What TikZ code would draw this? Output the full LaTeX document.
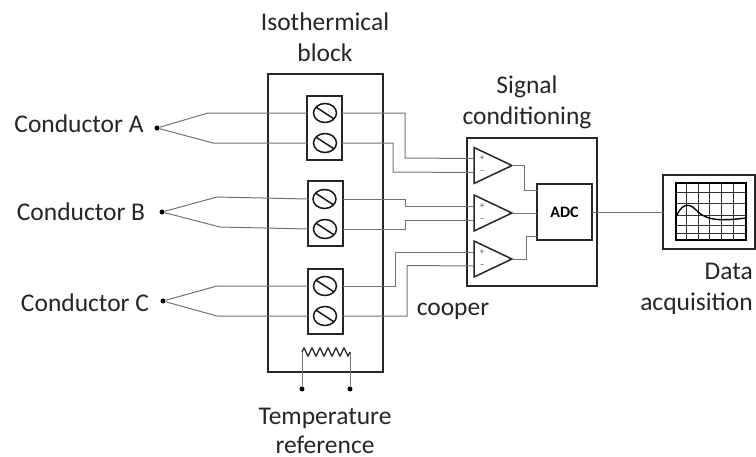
\documentclass[tikz,border=0pt]{standalone}
\usepackage{fontspec}
\setmainfont{Carlito}
\usetikzlibrary{positioning,shapes.geometric,decorations.pathmorphing}

\begin{document}
\begin{tikzpicture}[
  x=1pt, y=-1pt,
  font=\fontsize{25.5}{31}\selectfont,
  box/.style={draw=black!85, line width=1.5pt, inner sep=0pt, outer sep=0pt},
  wire/.style={draw=black!55, line width=1pt},
  lbl/.style={align=center, inner sep=0pt, text=black!85},
  screw/.style={draw=black!90, line width=1.5pt, ellipse, inner sep=0pt, minimum width=23pt, minimum height=19pt,
    path picture={\draw[line width=1.5pt] ([yshift=-2pt]path picture bounding box.north west) -- ([yshift=2pt]path picture bounding box.south east);}},
  amp/.style={draw=black!85, line width=1.5pt, isosceles triangle, isosceles triangle stretches, inner sep=0pt, outer sep=0pt,
    minimum width=36pt, minimum height=38pt},
  sign/.style={font=\fontsize{9}{10}\selectfont, inner sep=0pt, text=black!70},
  pin/.style={circle, fill=black, inner sep=0pt, minimum size=5pt}
]
\useasboundingbox (0,0) rectangle (756,456);

% isothermal block
\node[box, minimum width=115pt, minimum height=298pt] (block) at (325.5,223) {};
\node[lbl] (blockname) at (325,37) {Isothermical\\block};
\node[box, minimum width=35pt, minimum height=64pt] (tA) at (324.5,128) {};
\node[box, minimum width=35pt, minimum height=65pt] (tB) at (325.5,213.5) {};
\node[box, minimum width=35pt, minimum height=65pt] (tC) at (325.5,301.5) {};
\node[screw] (sA1) at (325,113) {};
\node[screw] (sA2) at (325,143) {};
\node[screw] (sB1) at (324.5,199) {};
\node[screw] (sB2) at (325,229) {};
\node[screw] (sC1) at (325,286) {};
\node[screw] (sC2) at (325,316) {};

% thermocouples
\node[lbl] (condA) at (79,124) {Conductor A};
\node[lbl] (condB) at (81,212) {Conductor B};
\node[lbl] (condC) at (85,303) {Conductor C};
\node[pin] (dotA) at (157,128) {};
\node[pin] (dotB) at (162,212) {};
\node[pin] (dotC) at (163,301) {};
\draw[wire] (dotA) -- (208,113) -- (tA.west |- sA1);
\draw[wire] (dotA) -- (213,143) -- (tA.west |- sA2);
\draw[wire] (dotB) -- (217,197) -- (tB.west |- sB1);
\draw[wire] (dotB) -- (220,227) -- (tB.west |- sB2);
\draw[wire] (dotC) -- (217,286) -- (tC.west |- sC1);
\draw[wire] (dotC) -- (217,316) -- (tC.west |- sC2);

% signal conditioning
\node[box, minimum width=130pt, minimum height=148pt] (cond) at (532,212) {};
\node[lbl] (condname) at (527,102) {Signal\\conditioning};
\node[amp, anchor=lower side] (ampA) at (474,165.5) {};
\node[amp, anchor=lower side] (ampB) at (474,213) {};
\node[amp, anchor=lower side] (ampC) at (474,259) {};
\foreach \n in {ampA,ampB,ampC} {
  \node[sign] at ([xshift=8pt,yshift=7pt]\n.lower side) {+};
  \node[sign] at ([xshift=8pt,yshift=-7pt]\n.lower side) {--};
}
\node[box, minimum width=55pt, minimum height=56pt, font=\fontsize{16}{18}\selectfont\bfseries] (adc) at (564.5,212) {ADC};

\draw[wire] (tA.east |- sA1) -- (405,113) -- (405,158) -- ([yshift=7pt]ampA.lower side);
\draw[wire] (tA.east |- sA2) -- (393,143) -- (393,172) -- ([yshift=-7pt]ampA.lower side);
\draw[wire] (tB.east |- sB1) -- (405,199) -- (405,206) -- ([yshift=7pt]ampB.lower side);
\draw[wire] (tB.east |- sB2) -- (405,229) -- (405,220) -- ([yshift=-7pt]ampB.lower side);
\draw[wire] (tC.east |- sC1) -- (395,286) -- (395,252) -- ([yshift=7pt]ampC.lower side);
\draw[wire] (tC.east |- sC2) -- (407,316) -- (407,265.5) -- ([yshift=-7pt]ampC.lower side);
\node[lbl] (copper) at (453,311) {cooper};

\draw[wire] (ampA.apex) -- (524,165.5) -- (524,190) -- (adc.west |- 0,190);
\draw[wire] (ampB.apex) -- (adc.west |- ampB.apex);
\draw[wire] (ampC.apex) -- (526,259) -- (526,236) -- (adc.west |- 0,236);

% data acquisition
\node[box, minimum width=92pt, minimum height=74pt] (scope) at (709,212) {};
\node[draw=black, line width=1.2pt, inner sep=0pt, minimum width=70pt, minimum height=57pt] (screen) at (711,211.5) {};
\foreach \x in {686,698,709,721,733}
  \draw[black!80, line width=.7pt] (\x,183) -- (\x,240);
\foreach \y in {192,203,215,225,233}
  \draw[black!80, line width=.7pt] (676,\y) -- (746,\y);
\draw[black, line width=1.4pt] (676,217) .. controls (681,205) and (688,202) .. (695,209) .. controls (704,219) and (715,222) .. (746,218);
\draw[wire] (adc) -- (scope);
\node[lbl, align=right, anchor=east] (scopename) at (753,289) {Data\\acquisition};

% temperature reference
\coordinate (rl) at (302,352);
\coordinate (rr) at (350,352);
\node[pin] (pinl) at (302,389) {};
\node[pin] (pinr) at (350,389) {};
\draw[black!85, line width=1.3pt, decorate, decoration={zigzag, segment length=8pt, amplitude=4pt}] (rl) -- (rr);
\draw[wire] (rl) -- (pinl);
\draw[wire] (rr) -- (pinr);
\node[lbl, anchor=south] (refname) at (325,454) {Temperature\\[-2pt]reference};
\end{tikzpicture}
\end{document}
